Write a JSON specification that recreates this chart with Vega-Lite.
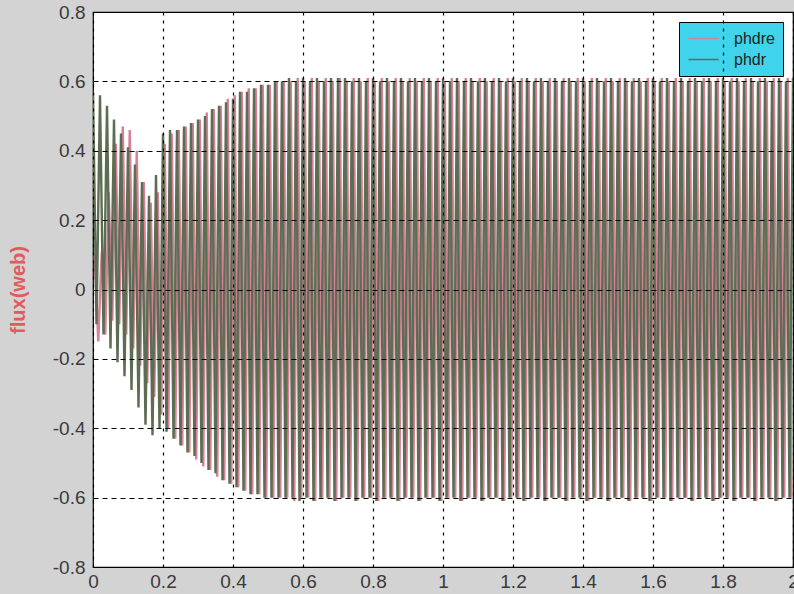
{
"$schema": "https://vega.github.io/schema/vega-lite/v6.json",
"width": 700,
"height": 555,
"autosize": {"type": "none"},
"padding": {"left": 93, "top": 12, "right": 1, "bottom": 27},
"background": "#d3d3d3",
"config": {"view": {"fill": "white", "stroke": "black", "strokeWidth": 1.2}, "font": "Liberation Sans"},
"data": {"values": [
{"t":0.005,"v":0.10,"s":"phdre"},{"t":0.015,"v":-0.15,"s":"phdre"},{"t":0.025,"v":0.11,"s":"phdre"},{"t":0.035,"v":-0.13,"s":"phdre"},{"t":0.045,"v":0.28,"s":"phdre"},{"t":0.055,"v":-0.09,"s":"phdre"},{"t":0.065,"v":0.42,"s":"phdre"},{"t":0.075,"v":-0.10,"s":"phdre"},{"t":0.085,"v":0.47,"s":"phdre"},{"t":0.095,"v":-0.13,"s":"phdre"},
{"t":0.105,"v":0.46,"s":"phdre"},{"t":0.115,"v":-0.17,"s":"phdre"},{"t":0.125,"v":0.40,"s":"phdre"},{"t":0.135,"v":-0.22,"s":"phdre"},{"t":0.145,"v":0.31,"s":"phdre"},{"t":0.155,"v":-0.27,"s":"phdre"},{"t":0.165,"v":0.25,"s":"phdre"},{"t":0.175,"v":-0.31,"s":"phdre"},{"t":0.185,"v":0.28,"s":"phdre"},{"t":0.195,"v":-0.36,"s":"phdre"},
{"t":0.205,"v":0.42,"s":"phdre"},{"t":0.215,"v":-0.40,"s":"phdre"},{"t":0.225,"v":0.45,"s":"phdre"},{"t":0.235,"v":-0.43,"s":"phdre"},{"t":0.245,"v":0.46,"s":"phdre"},{"t":0.255,"v":-0.45,"s":"phdre"},{"t":0.265,"v":0.47,"s":"phdre"},{"t":0.275,"v":-0.47,"s":"phdre"},{"t":0.285,"v":0.48,"s":"phdre"},{"t":0.295,"v":-0.49,"s":"phdre"},
{"t":0.305,"v":0.49,"s":"phdre"},{"t":0.315,"v":-0.51,"s":"phdre"},{"t":0.325,"v":0.51,"s":"phdre"},{"t":0.335,"v":-0.52,"s":"phdre"},{"t":0.345,"v":0.52,"s":"phdre"},{"t":0.355,"v":-0.54,"s":"phdre"},{"t":0.365,"v":0.53,"s":"phdre"},{"t":0.375,"v":-0.55,"s":"phdre"},{"t":0.385,"v":0.55,"s":"phdre"},{"t":0.395,"v":-0.56,"s":"phdre"},
{"t":0.405,"v":0.56,"s":"phdre"},{"t":0.415,"v":-0.57,"s":"phdre"},{"t":0.425,"v":0.57,"s":"phdre"},{"t":0.435,"v":-0.58,"s":"phdre"},{"t":0.445,"v":0.58,"s":"phdre"},{"t":0.455,"v":-0.59,"s":"phdre"},{"t":0.465,"v":0.58,"s":"phdre"},{"t":0.475,"v":-0.59,"s":"phdre"},{"t":0.485,"v":0.59,"s":"phdre"},{"t":0.495,"v":-0.60,"s":"phdre"},
{"t":0.505,"v":0.59,"s":"phdre"},{"t":0.515,"v":-0.60,"s":"phdre"},{"t":0.525,"v":0.60,"s":"phdre"},{"t":0.535,"v":-0.60,"s":"phdre"},{"t":0.545,"v":0.60,"s":"phdre"},{"t":0.555,"v":-0.60,"s":"phdre"},{"t":0.565,"v":0.60,"s":"phdre"},{"t":0.575,"v":-0.61,"s":"phdre"},{"t":0.585,"v":0.61,"s":"phdre"},{"t":0.595,"v":-0.60,"s":"phdre"},
{"t":0.605,"v":0.60,"s":"phdre"},{"t":0.615,"v":-0.60,"s":"phdre"},{"t":0.625,"v":0.61,"s":"phdre"},{"t":0.635,"v":-0.61,"s":"phdre"},{"t":0.645,"v":0.60,"s":"phdre"},{"t":0.655,"v":-0.60,"s":"phdre"},{"t":0.665,"v":0.61,"s":"phdre"},{"t":0.675,"v":-0.60,"s":"phdre"},{"t":0.685,"v":0.60,"s":"phdre"},{"t":0.695,"v":-0.61,"s":"phdre"},
{"t":0.705,"v":0.61,"s":"phdre"},{"t":0.715,"v":-0.60,"s":"phdre"},{"t":0.725,"v":0.60,"s":"phdre"},{"t":0.735,"v":-0.60,"s":"phdre"},{"t":0.745,"v":0.61,"s":"phdre"},{"t":0.755,"v":-0.61,"s":"phdre"},{"t":0.765,"v":0.60,"s":"phdre"},{"t":0.775,"v":-0.60,"s":"phdre"},{"t":0.785,"v":0.61,"s":"phdre"},{"t":0.795,"v":-0.60,"s":"phdre"},
{"t":0.805,"v":0.60,"s":"phdre"},{"t":0.815,"v":-0.61,"s":"phdre"},{"t":0.825,"v":0.61,"s":"phdre"},{"t":0.835,"v":-0.60,"s":"phdre"},{"t":0.845,"v":0.60,"s":"phdre"},{"t":0.855,"v":-0.60,"s":"phdre"},{"t":0.865,"v":0.61,"s":"phdre"},{"t":0.875,"v":-0.61,"s":"phdre"},{"t":0.885,"v":0.60,"s":"phdre"},{"t":0.895,"v":-0.60,"s":"phdre"},
{"t":0.905,"v":0.61,"s":"phdre"},{"t":0.915,"v":-0.60,"s":"phdre"},{"t":0.925,"v":0.60,"s":"phdre"},{"t":0.935,"v":-0.61,"s":"phdre"},{"t":0.945,"v":0.61,"s":"phdre"},{"t":0.955,"v":-0.60,"s":"phdre"},{"t":0.965,"v":0.60,"s":"phdre"},{"t":0.975,"v":-0.60,"s":"phdre"},{"t":0.985,"v":0.61,"s":"phdre"},{"t":0.995,"v":-0.61,"s":"phdre"},
{"t":1.005,"v":0.60,"s":"phdre"},{"t":1.015,"v":-0.60,"s":"phdre"},{"t":1.025,"v":0.61,"s":"phdre"},{"t":1.035,"v":-0.60,"s":"phdre"},{"t":1.045,"v":0.60,"s":"phdre"},{"t":1.055,"v":-0.61,"s":"phdre"},{"t":1.065,"v":0.61,"s":"phdre"},{"t":1.075,"v":-0.60,"s":"phdre"},{"t":1.085,"v":0.60,"s":"phdre"},{"t":1.095,"v":-0.60,"s":"phdre"},
{"t":1.105,"v":0.61,"s":"phdre"},{"t":1.115,"v":-0.61,"s":"phdre"},{"t":1.125,"v":0.60,"s":"phdre"},{"t":1.135,"v":-0.60,"s":"phdre"},{"t":1.145,"v":0.61,"s":"phdre"},{"t":1.155,"v":-0.60,"s":"phdre"},{"t":1.165,"v":0.60,"s":"phdre"},{"t":1.175,"v":-0.61,"s":"phdre"},{"t":1.185,"v":0.61,"s":"phdre"},{"t":1.195,"v":-0.60,"s":"phdre"},
{"t":1.205,"v":0.60,"s":"phdre"},{"t":1.215,"v":-0.60,"s":"phdre"},{"t":1.225,"v":0.61,"s":"phdre"},{"t":1.235,"v":-0.61,"s":"phdre"},{"t":1.245,"v":0.60,"s":"phdre"},{"t":1.255,"v":-0.60,"s":"phdre"},{"t":1.265,"v":0.61,"s":"phdre"},{"t":1.275,"v":-0.60,"s":"phdre"},{"t":1.285,"v":0.60,"s":"phdre"},{"t":1.295,"v":-0.61,"s":"phdre"},
{"t":1.305,"v":0.61,"s":"phdre"},{"t":1.315,"v":-0.60,"s":"phdre"},{"t":1.325,"v":0.60,"s":"phdre"},{"t":1.335,"v":-0.60,"s":"phdre"},{"t":1.345,"v":0.61,"s":"phdre"},{"t":1.355,"v":-0.61,"s":"phdre"},{"t":1.365,"v":0.60,"s":"phdre"},{"t":1.375,"v":-0.60,"s":"phdre"},{"t":1.385,"v":0.61,"s":"phdre"},{"t":1.395,"v":-0.60,"s":"phdre"},
{"t":1.405,"v":0.60,"s":"phdre"},{"t":1.415,"v":-0.61,"s":"phdre"},{"t":1.425,"v":0.61,"s":"phdre"},{"t":1.435,"v":-0.60,"s":"phdre"},{"t":1.445,"v":0.60,"s":"phdre"},{"t":1.455,"v":-0.60,"s":"phdre"},{"t":1.465,"v":0.61,"s":"phdre"},{"t":1.475,"v":-0.61,"s":"phdre"},{"t":1.485,"v":0.60,"s":"phdre"},{"t":1.495,"v":-0.60,"s":"phdre"},
{"t":1.505,"v":0.61,"s":"phdre"},{"t":1.515,"v":-0.60,"s":"phdre"},{"t":1.525,"v":0.60,"s":"phdre"},{"t":1.535,"v":-0.61,"s":"phdre"},{"t":1.545,"v":0.61,"s":"phdre"},{"t":1.555,"v":-0.60,"s":"phdre"},{"t":1.565,"v":0.60,"s":"phdre"},{"t":1.575,"v":-0.60,"s":"phdre"},{"t":1.585,"v":0.61,"s":"phdre"},{"t":1.595,"v":-0.61,"s":"phdre"},
{"t":1.605,"v":0.60,"s":"phdre"},{"t":1.615,"v":-0.60,"s":"phdre"},{"t":1.625,"v":0.61,"s":"phdre"},{"t":1.635,"v":-0.60,"s":"phdre"},{"t":1.645,"v":0.60,"s":"phdre"},{"t":1.655,"v":-0.61,"s":"phdre"},{"t":1.665,"v":0.61,"s":"phdre"},{"t":1.675,"v":-0.60,"s":"phdre"},{"t":1.685,"v":0.60,"s":"phdre"},{"t":1.695,"v":-0.60,"s":"phdre"},
{"t":1.705,"v":0.61,"s":"phdre"},{"t":1.715,"v":-0.61,"s":"phdre"},{"t":1.725,"v":0.60,"s":"phdre"},{"t":1.735,"v":-0.60,"s":"phdre"},{"t":1.745,"v":0.61,"s":"phdre"},{"t":1.755,"v":-0.60,"s":"phdre"},{"t":1.765,"v":0.60,"s":"phdre"},{"t":1.775,"v":-0.61,"s":"phdre"},{"t":1.785,"v":0.61,"s":"phdre"},{"t":1.795,"v":-0.60,"s":"phdre"},
{"t":1.805,"v":0.60,"s":"phdre"},{"t":1.815,"v":-0.60,"s":"phdre"},{"t":1.825,"v":0.61,"s":"phdre"},{"t":1.835,"v":-0.61,"s":"phdre"},{"t":1.845,"v":0.60,"s":"phdre"},{"t":1.855,"v":-0.60,"s":"phdre"},{"t":1.865,"v":0.61,"s":"phdre"},{"t":1.875,"v":-0.60,"s":"phdre"},{"t":1.885,"v":0.60,"s":"phdre"},{"t":1.895,"v":-0.61,"s":"phdre"},
{"t":1.905,"v":0.61,"s":"phdre"},{"t":1.915,"v":-0.60,"s":"phdre"},{"t":1.925,"v":0.60,"s":"phdre"},{"t":1.935,"v":-0.60,"s":"phdre"},{"t":1.945,"v":0.61,"s":"phdre"},{"t":1.955,"v":-0.61,"s":"phdre"},{"t":1.965,"v":0.60,"s":"phdre"},{"t":1.975,"v":-0.60,"s":"phdre"},{"t":1.985,"v":0.61,"s":"phdre"},{"t":1.995,"v":-0.60,"s":"phdre"},
{"t":0.00,"v":0.57,"s":"phdr"},{"t":0.01,"v":-0.10,"s":"phdr"},{"t":0.02,"v":0.56,"s":"phdr"},{"t":0.03,"v":-0.13,"s":"phdr"},{"t":0.04,"v":0.53,"s":"phdr"},{"t":0.05,"v":-0.17,"s":"phdr"},{"t":0.06,"v":0.49,"s":"phdr"},{"t":0.07,"v":-0.21,"s":"phdr"},{"t":0.08,"v":0.45,"s":"phdr"},{"t":0.09,"v":-0.25,"s":"phdr"},
{"t":0.10,"v":0.41,"s":"phdr"},{"t":0.11,"v":-0.29,"s":"phdr"},{"t":0.12,"v":0.36,"s":"phdr"},{"t":0.13,"v":-0.34,"s":"phdr"},{"t":0.14,"v":0.31,"s":"phdr"},{"t":0.15,"v":-0.39,"s":"phdr"},{"t":0.16,"v":0.27,"s":"phdr"},{"t":0.17,"v":-0.42,"s":"phdr"},{"t":0.18,"v":0.33,"s":"phdr"},{"t":0.19,"v":-0.40,"s":"phdr"},
{"t":0.20,"v":0.45,"s":"phdr"},{"t":0.21,"v":-0.41,"s":"phdr"},{"t":0.22,"v":0.46,"s":"phdr"},{"t":0.23,"v":-0.43,"s":"phdr"},{"t":0.24,"v":0.46,"s":"phdr"},{"t":0.25,"v":-0.45,"s":"phdr"},{"t":0.26,"v":0.47,"s":"phdr"},{"t":0.27,"v":-0.47,"s":"phdr"},{"t":0.28,"v":0.48,"s":"phdr"},{"t":0.29,"v":-0.48,"s":"phdr"},
{"t":0.30,"v":0.49,"s":"phdr"},{"t":0.31,"v":-0.50,"s":"phdr"},{"t":0.32,"v":0.50,"s":"phdr"},{"t":0.33,"v":-0.52,"s":"phdr"},{"t":0.34,"v":0.52,"s":"phdr"},{"t":0.35,"v":-0.53,"s":"phdr"},{"t":0.36,"v":0.53,"s":"phdr"},{"t":0.37,"v":-0.55,"s":"phdr"},{"t":0.38,"v":0.54,"s":"phdr"},{"t":0.39,"v":-0.56,"s":"phdr"},
{"t":0.40,"v":0.55,"s":"phdr"},{"t":0.41,"v":-0.57,"s":"phdr"},{"t":0.42,"v":0.57,"s":"phdr"},{"t":0.43,"v":-0.58,"s":"phdr"},{"t":0.44,"v":0.57,"s":"phdr"},{"t":0.45,"v":-0.59,"s":"phdr"},{"t":0.46,"v":0.58,"s":"phdr"},{"t":0.47,"v":-0.59,"s":"phdr"},{"t":0.48,"v":0.59,"s":"phdr"},{"t":0.49,"v":-0.60,"s":"phdr"},
{"t":0.50,"v":0.59,"s":"phdr"},{"t":0.51,"v":-0.60,"s":"phdr"},{"t":0.52,"v":0.60,"s":"phdr"},{"t":0.53,"v":-0.60,"s":"phdr"},{"t":0.54,"v":0.60,"s":"phdr"},{"t":0.55,"v":-0.60,"s":"phdr"},{"t":0.56,"v":0.61,"s":"phdr"},{"t":0.57,"v":-0.60,"s":"phdr"},{"t":0.58,"v":0.60,"s":"phdr"},{"t":0.59,"v":-0.61,"s":"phdr"},
{"t":0.60,"v":0.61,"s":"phdr"},{"t":0.61,"v":-0.60,"s":"phdr"},{"t":0.62,"v":0.60,"s":"phdr"},{"t":0.63,"v":-0.61,"s":"phdr"},{"t":0.64,"v":0.61,"s":"phdr"},{"t":0.65,"v":-0.60,"s":"phdr"},{"t":0.66,"v":0.60,"s":"phdr"},{"t":0.67,"v":-0.60,"s":"phdr"},{"t":0.68,"v":0.61,"s":"phdr"},{"t":0.69,"v":-0.61,"s":"phdr"},
{"t":0.70,"v":0.61,"s":"phdr"},{"t":0.71,"v":-0.60,"s":"phdr"},{"t":0.72,"v":0.61,"s":"phdr"},{"t":0.73,"v":-0.60,"s":"phdr"},{"t":0.74,"v":0.60,"s":"phdr"},{"t":0.75,"v":-0.61,"s":"phdr"},{"t":0.76,"v":0.61,"s":"phdr"},{"t":0.77,"v":-0.60,"s":"phdr"},{"t":0.78,"v":0.60,"s":"phdr"},{"t":0.79,"v":-0.60,"s":"phdr"},
{"t":0.80,"v":0.61,"s":"phdr"},{"t":0.81,"v":-0.61,"s":"phdr"},{"t":0.82,"v":0.60,"s":"phdr"},{"t":0.83,"v":-0.60,"s":"phdr"},{"t":0.84,"v":0.61,"s":"phdr"},{"t":0.85,"v":-0.60,"s":"phdr"},{"t":0.86,"v":0.60,"s":"phdr"},{"t":0.87,"v":-0.61,"s":"phdr"},{"t":0.88,"v":0.61,"s":"phdr"},{"t":0.89,"v":-0.60,"s":"phdr"},
{"t":0.90,"v":0.60,"s":"phdr"},{"t":0.91,"v":-0.60,"s":"phdr"},{"t":0.92,"v":0.61,"s":"phdr"},{"t":0.93,"v":-0.61,"s":"phdr"},{"t":0.94,"v":0.60,"s":"phdr"},{"t":0.95,"v":-0.60,"s":"phdr"},{"t":0.96,"v":0.61,"s":"phdr"},{"t":0.97,"v":-0.60,"s":"phdr"},{"t":0.98,"v":0.60,"s":"phdr"},{"t":0.99,"v":-0.61,"s":"phdr"},
{"t":1.00,"v":0.61,"s":"phdr"},{"t":1.01,"v":-0.60,"s":"phdr"},{"t":1.02,"v":0.60,"s":"phdr"},{"t":1.03,"v":-0.60,"s":"phdr"},{"t":1.04,"v":0.61,"s":"phdr"},{"t":1.05,"v":-0.61,"s":"phdr"},{"t":1.06,"v":0.60,"s":"phdr"},{"t":1.07,"v":-0.60,"s":"phdr"},{"t":1.08,"v":0.61,"s":"phdr"},{"t":1.09,"v":-0.60,"s":"phdr"},
{"t":1.10,"v":0.60,"s":"phdr"},{"t":1.11,"v":-0.61,"s":"phdr"},{"t":1.12,"v":0.61,"s":"phdr"},{"t":1.13,"v":-0.60,"s":"phdr"},{"t":1.14,"v":0.60,"s":"phdr"},{"t":1.15,"v":-0.60,"s":"phdr"},{"t":1.16,"v":0.61,"s":"phdr"},{"t":1.17,"v":-0.61,"s":"phdr"},{"t":1.18,"v":0.60,"s":"phdr"},{"t":1.19,"v":-0.60,"s":"phdr"},
{"t":1.20,"v":0.61,"s":"phdr"},{"t":1.21,"v":-0.60,"s":"phdr"},{"t":1.22,"v":0.60,"s":"phdr"},{"t":1.23,"v":-0.61,"s":"phdr"},{"t":1.24,"v":0.61,"s":"phdr"},{"t":1.25,"v":-0.60,"s":"phdr"},{"t":1.26,"v":0.60,"s":"phdr"},{"t":1.27,"v":-0.60,"s":"phdr"},{"t":1.28,"v":0.61,"s":"phdr"},{"t":1.29,"v":-0.61,"s":"phdr"},
{"t":1.30,"v":0.60,"s":"phdr"},{"t":1.31,"v":-0.60,"s":"phdr"},{"t":1.32,"v":0.61,"s":"phdr"},{"t":1.33,"v":-0.60,"s":"phdr"},{"t":1.34,"v":0.60,"s":"phdr"},{"t":1.35,"v":-0.61,"s":"phdr"},{"t":1.36,"v":0.61,"s":"phdr"},{"t":1.37,"v":-0.60,"s":"phdr"},{"t":1.38,"v":0.60,"s":"phdr"},{"t":1.39,"v":-0.60,"s":"phdr"},
{"t":1.40,"v":0.61,"s":"phdr"},{"t":1.41,"v":-0.61,"s":"phdr"},{"t":1.42,"v":0.60,"s":"phdr"},{"t":1.43,"v":-0.60,"s":"phdr"},{"t":1.44,"v":0.61,"s":"phdr"},{"t":1.45,"v":-0.60,"s":"phdr"},{"t":1.46,"v":0.60,"s":"phdr"},{"t":1.47,"v":-0.61,"s":"phdr"},{"t":1.48,"v":0.61,"s":"phdr"},{"t":1.49,"v":-0.60,"s":"phdr"},
{"t":1.50,"v":0.60,"s":"phdr"},{"t":1.51,"v":-0.60,"s":"phdr"},{"t":1.52,"v":0.61,"s":"phdr"},{"t":1.53,"v":-0.61,"s":"phdr"},{"t":1.54,"v":0.60,"s":"phdr"},{"t":1.55,"v":-0.60,"s":"phdr"},{"t":1.56,"v":0.61,"s":"phdr"},{"t":1.57,"v":-0.60,"s":"phdr"},{"t":1.58,"v":0.60,"s":"phdr"},{"t":1.59,"v":-0.61,"s":"phdr"},
{"t":1.60,"v":0.61,"s":"phdr"},{"t":1.61,"v":-0.60,"s":"phdr"},{"t":1.62,"v":0.60,"s":"phdr"},{"t":1.63,"v":-0.60,"s":"phdr"},{"t":1.64,"v":0.61,"s":"phdr"},{"t":1.65,"v":-0.61,"s":"phdr"},{"t":1.66,"v":0.60,"s":"phdr"},{"t":1.67,"v":-0.60,"s":"phdr"},{"t":1.68,"v":0.61,"s":"phdr"},{"t":1.69,"v":-0.60,"s":"phdr"},
{"t":1.70,"v":0.60,"s":"phdr"},{"t":1.71,"v":-0.61,"s":"phdr"},{"t":1.72,"v":0.61,"s":"phdr"},{"t":1.73,"v":-0.60,"s":"phdr"},{"t":1.74,"v":0.60,"s":"phdr"},{"t":1.75,"v":-0.60,"s":"phdr"},{"t":1.76,"v":0.61,"s":"phdr"},{"t":1.77,"v":-0.61,"s":"phdr"},{"t":1.78,"v":0.60,"s":"phdr"},{"t":1.79,"v":-0.60,"s":"phdr"},
{"t":1.80,"v":0.61,"s":"phdr"},{"t":1.81,"v":-0.60,"s":"phdr"},{"t":1.82,"v":0.60,"s":"phdr"},{"t":1.83,"v":-0.61,"s":"phdr"},{"t":1.84,"v":0.61,"s":"phdr"},{"t":1.85,"v":-0.60,"s":"phdr"},{"t":1.86,"v":0.60,"s":"phdr"},{"t":1.87,"v":-0.60,"s":"phdr"},{"t":1.88,"v":0.61,"s":"phdr"},{"t":1.89,"v":-0.61,"s":"phdr"},
{"t":1.90,"v":0.60,"s":"phdr"},{"t":1.91,"v":-0.60,"s":"phdr"},{"t":1.92,"v":0.61,"s":"phdr"},{"t":1.93,"v":-0.60,"s":"phdr"},{"t":1.94,"v":0.60,"s":"phdr"},{"t":1.95,"v":-0.61,"s":"phdr"},{"t":1.96,"v":0.61,"s":"phdr"},{"t":1.97,"v":-0.60,"s":"phdr"},{"t":1.98,"v":0.60,"s":"phdr"},{"t":1.99,"v":-0.60,"s":"phdr"},
{"t":2.00,"v":0.61,"s":"phdr"}
]},
"mark": {"type": "line", "strokeWidth": 2.4, "clip": true},
"encoding": {
  "x": {"field": "t", "type": "quantitative",
    "scale": {"domain": [0, 2], "nice": false, "zero": false},
    "axis": {"title": null, "values": [0, 0.2, 0.4, 0.6, 0.8, 1, 1.2, 1.4, 1.6, 1.8, 2], "format": "~g",
      "grid": true, "gridColor": "black", "gridDash": [3, 5], "gridWidth": 1.2, "gridOpacity": 1,
      "ticks": false, "domain": false, "labelFontSize": 19, "labelColor": "#3a3a3a", "labelPadding": 5,
      "labelFlush": false, "labelOverlap": false, "zindex": 1}},
  "y": {"field": "v", "type": "quantitative",
    "scale": {"domain": [-0.8, 0.8], "nice": false},
    "axis": {"title": "flux(web)", "values": [-0.8, -0.6, -0.4, -0.2, 0, 0.2, 0.4, 0.6, 0.8],
      "labelExpr": "datum.value < 0 ? '-' + format(-datum.value, '~g') : format(datum.value, '~g')",
      "grid": true, "gridColor": "black", "gridDash": [5, 4], "gridWidth": 1.2, "gridOpacity": 1,
      "ticks": false, "domain": false, "labelFontSize": 19, "labelColor": "#3a3a3a", "labelPadding": 8,
      "labelFlush": false, "labelOverlap": false,
      "titleColor": "#e35a5a", "titleFontSize": 20, "titleFontWeight": "bold", "titlePadding": 24, "zindex": 1}},
  "color": {"field": "s", "type": "nominal",
    "scale": {"domain": ["phdre", "phdr"], "range": ["#d8809a", "#5c6d52"]},
    "legend": {"title": null, "orient": "top-right", "offset": 10, "fillColor": "#40d4ec", "strokeColor": "black",
      "padding": 8, "symbolType": "M-2,0H2", "symbolSize": 225, "symbolStrokeWidth": 1.5, "symbolOffset": 8,
      "labelFontSize": 16, "labelColor": "#222222", "labelOffset": 22, "rowPadding": 4}}
}
}
